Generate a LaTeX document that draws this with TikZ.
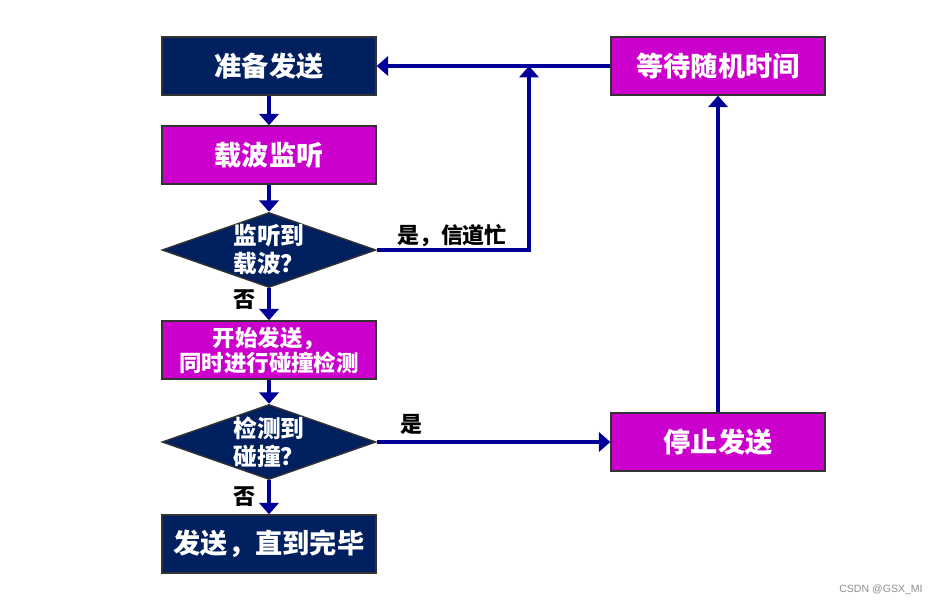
\documentclass[tikz,border=0pt]{standalone}
\usepackage{fontspec}
\usetikzlibrary{shapes.geometric,arrows.meta}
\newfontfamily\cjk{Noto Sans CJK SC}
\newfontfamily\wmfont{Liberation Sans}
\definecolor{navy}{HTML}{002060}
\definecolor{mag}{HTML}{CC00CC}
\definecolor{arrblue}{HTML}{000099}
\begin{document}
\begin{tikzpicture}[x=0.02cm,y=-0.02cm,
  box/.style={draw=black!80,line width=0.8pt,minimum width=4.28cm,minimum height=1.16cm,
    inner sep=0pt,text=white,align=center,font=\cjk\bfseries\fontsize{15.5}{18}\selectfont},
  dia/.style={diamond,draw=black!80,line width=0.8pt,fill=navy,minimum width=4.28cm,
    minimum height=1.5cm,aspect=2.85,inner sep=0pt},
  diatext/.style={text=white,align=left,font=\cjk\bfseries\fontsize{13.5}{16}\selectfont},
  lab/.style={font=\cjk\bfseries\fontsize{12.5}{14}\selectfont},
  arr/.style={draw=arrblue,line width=1.9pt,-{Triangle[width=11pt,length=6.5pt]}}]
  \useasboundingbox (0,0) rectangle (939,607);
  \node[box,fill=navy] (prep) at (269,66) {准备发送};
  \node[box,fill=mag] (listen) at (269,155) {载波监听};
  \node[dia,label={[diatext]center:{监听到\\载波？}}] (d1) at (269,250) {};
  \node[box,fill=mag,font=\cjk\bfseries\fontsize{12.8}{14.2}\selectfont] (start) at (269,350)
    {开始发送，\\同时进行碰撞检测};
  \node[dia,label={[diatext]center:{检测到\\碰撞？}}] (d2) at (269,442) {};
  \node[box,fill=navy] (done) at (269,544) {发送，直到完毕};
  \node[box,fill=mag] (wait) at (718,66) {等待随机时间};
  \node[box,fill=mag] (stop) at (718,442) {停止发送};
  \coordinate (busy) at (529,66);
  \foreach \a/\b in {prep/listen, listen/d1, d1/start, start/d2, d2/done, stop/wait, d2/stop, wait/prep}
    \draw[arr] (\a) -- (\b);
  \draw[arr] (d1.east) -| (busy);
  \node[lab] (yesbusy) at (452,236) {是，信道忙};
  \node[lab] (no1) at (244,300) {否};
  \node[lab] (no2) at (244,497) {否};
  \node[lab] (yes2) at (411,425) {是};
  \node[text=black!45,font=\wmfont\fontsize{6}{7}\selectfont] (wm) at (881,590) {CSDN @GSX\_MI};
\end{tikzpicture}
\end{document}
